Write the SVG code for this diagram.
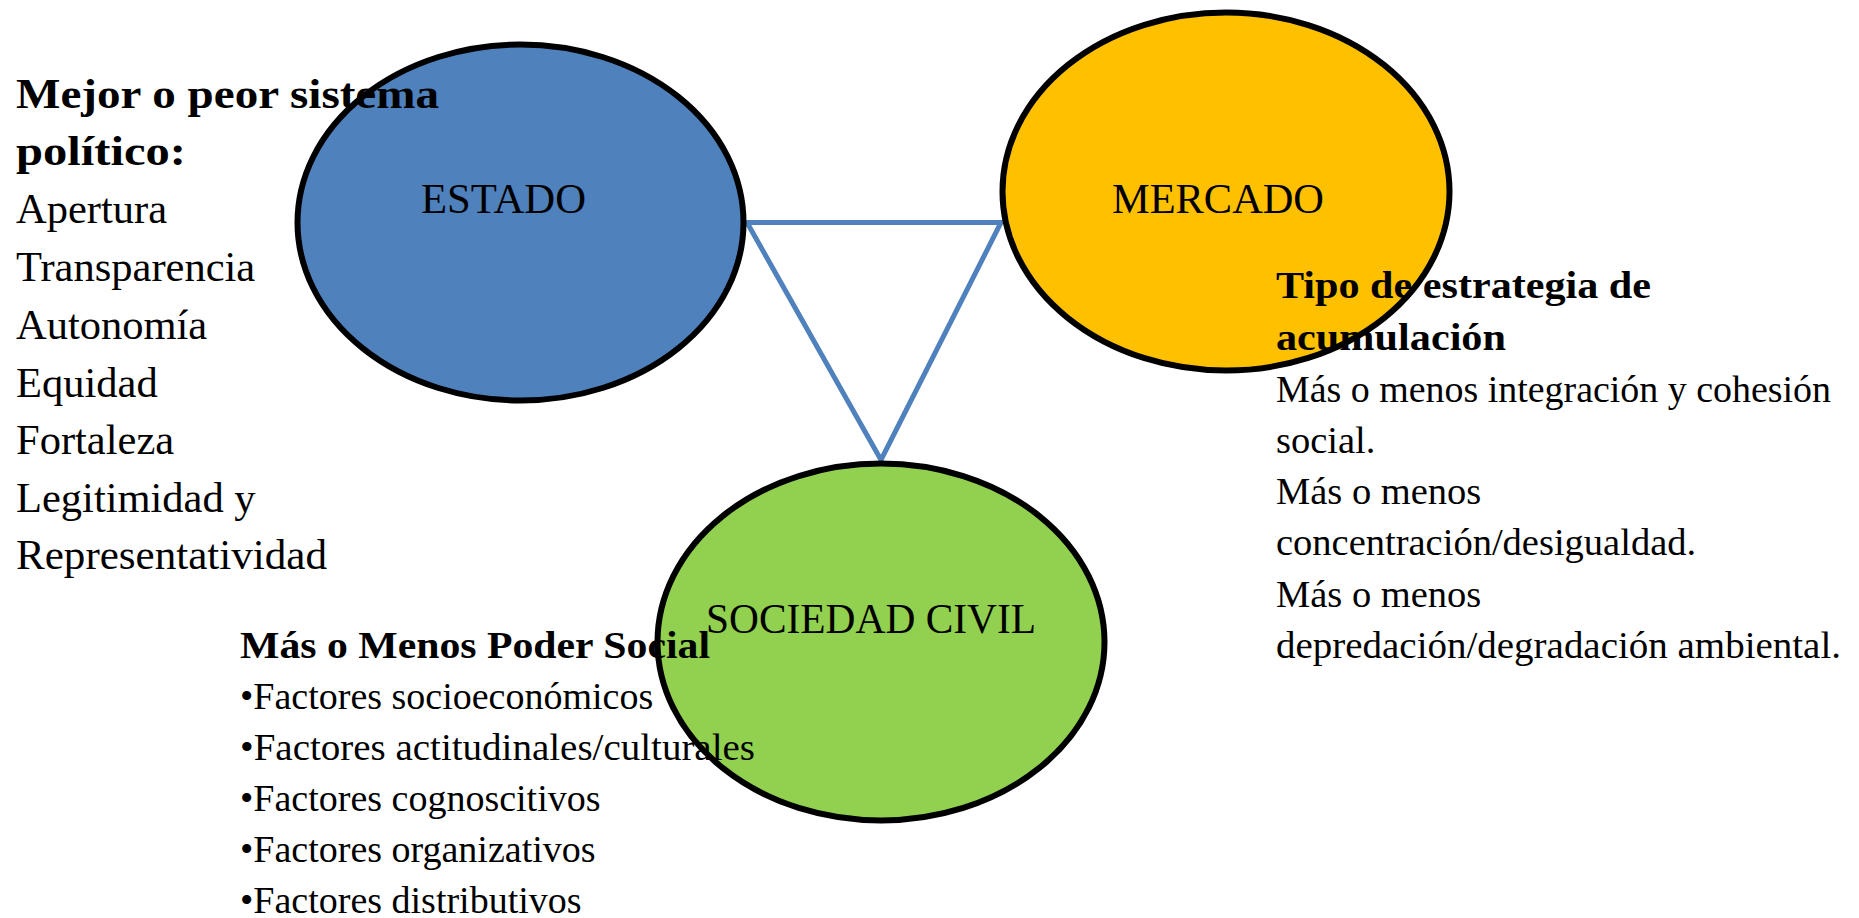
<svg xmlns="http://www.w3.org/2000/svg" width="1859" height="918" viewBox="0 0 1859 918">
<style>
.node{stroke:#000;stroke-width:6}
.lbl{font-family:"Liberation Serif","DejaVu Serif",serif;font-size:42px;fill:#000}
.t{font-family:"Liberation Serif","DejaVu Serif",serif;fill:#000}
.b{font-weight:bold}
.l{font-size:42.5px}
.r{font-size:38.5px}
.s{font-size:38px}
.conn{fill:none;stroke:#4F81BD;stroke-width:5;stroke-linejoin:miter}
</style>
<rect width="1859" height="918" fill="#fff"/>
<g id="connectors">
<polygon class="conn" points="747,222.5 1001,222.5 881,460"/>
</g>
<g id="estado">
<ellipse class="node" cx="520.5" cy="222.5" rx="223" ry="178" fill="#4F81BD"/>
<text class="lbl" x="421" y="213" textLength="165" lengthAdjust="spacingAndGlyphs">ESTADO</text>
</g>
<g id="mercado">
<ellipse class="node" cx="1226" cy="191.5" rx="223.5" ry="179" fill="#FFC000"/>
<text class="lbl" x="1112" y="213" textLength="212" lengthAdjust="spacingAndGlyphs">MERCADO</text>
</g>
<g id="sociedad">
<ellipse class="node" cx="881" cy="642" rx="223.5" ry="178.5" fill="#92D050"/>
<text class="lbl" x="706" y="633" textLength="330" lengthAdjust="spacingAndGlyphs">SOCIEDAD CIVIL</text>
</g>
<g id="estado-notes" class="t l">
<text class="b" x="16" y="108" textLength="423" lengthAdjust="spacingAndGlyphs">Mejor o peor sistema</text>
<text class="b" x="16" y="165" textLength="170" lengthAdjust="spacingAndGlyphs">político:</text>
<text x="16" y="223">Apertura</text>
<text x="16" y="281">Transparencia</text>
<text x="16" y="339">Autonomía</text>
<text x="16" y="397">Equidad</text>
<text x="16" y="454">Fortaleza</text>
<text x="16" y="512">Legitimidad y</text>
<text x="16" y="569" textLength="311" lengthAdjust="spacingAndGlyphs">Representatividad</text>
</g>
<g id="mercado-notes" class="t r">
<text class="b" x="1276" y="298" textLength="375" lengthAdjust="spacingAndGlyphs">Tipo de estrategia de</text>
<text class="b" x="1276" y="350" textLength="230" lengthAdjust="spacingAndGlyphs">acumulación</text>
<text x="1276" y="402" textLength="555" lengthAdjust="spacingAndGlyphs">Más o menos integración y cohesión</text>
<text x="1276" y="453">social.</text>
<text x="1276" y="504">Más o menos</text>
<text x="1276" y="555">concentración/desigualdad.</text>
<text x="1276" y="607">Más o menos</text>
<text x="1276" y="658" textLength="565" lengthAdjust="spacingAndGlyphs">depredación/degradación ambiental.</text>
</g>
<g id="sociedad-notes" class="t s">
<text class="b" x="240" y="658" textLength="470" lengthAdjust="spacingAndGlyphs">Más o Menos Poder Social</text>
<text x="240" y="709">•Factores socioeconómicos</text>
<text x="240" y="760" textLength="515" lengthAdjust="spacingAndGlyphs">•Factores actitudinales/culturales</text>
<text x="240" y="811">•Factores cognoscitivos</text>
<text x="240" y="862">•Factores organizativos</text>
<text x="240" y="913">•Factores distributivos</text>
</g>
</svg>
